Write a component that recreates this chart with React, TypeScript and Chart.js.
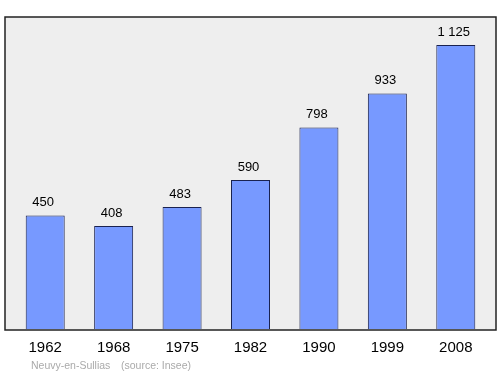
import React, { useEffect, useRef } from "react";
import { Chart, registerables } from "chart.js";

Chart.register(...registerables);

const years = ["1962", "1968", "1975", "1982", "1990", "1999", "2008"];
const population = [450, 408, 483, 590, 798, 933, 1125];
const valueLabels = ["450", "408", "483", "590", "798", "933", "1 125"];
const footerPlace = "Neuvy-en-Sullias";
const footerSource = "(source: Insee)";

const FONT = "'Liberation Sans', Arial, sans-serif";

const framePlugin = {
  id: "frame",
  beforeDraw(chart: any) {
    const { ctx, chartArea } = chart;
    const l = chartArea.left - 6;
    const r = chartArea.right + 6;
    const t = chartArea.top;
    const b = chartArea.bottom + 1;
    ctx.save();
    ctx.fillStyle = "#eeeeee";
    ctx.fillRect(l, t, r - l, b - t);
    ctx.strokeStyle = "#222222";
    ctx.lineWidth = 1.5;
    ctx.strokeRect(l, t, r - l, b - t);
    ctx.restore();
  },
  afterDatasetsDraw(chart: any) {
    const { ctx, chartArea } = chart;
    const xs = chart.scales.x;
    const ys = chart.scales.y;
    ctx.save();
    ctx.fillStyle = "#000000";
    ctx.textAlign = "center";
    ctx.textBaseline = "middle";
    ctx.font = `13px ${FONT}`;
    population.forEach((v, i) => {
      const x = xs.getPixelForValue(i);
      const y = ys.getPixelForValue(v);
      ctx.fillText(valueLabels[i], x - 2, y - 13);
    });
    ctx.font = `15px ${FONT}`;
    years.forEach((yr, i) => {
      const x = xs.getPixelForValue(i);
      ctx.fillText(yr, x, chartArea.bottom + 19);
    });
    ctx.font = `10.5px ${FONT}`;
    ctx.fillStyle = "#aaaaaa";
    ctx.textAlign = "left";
    ctx.fillText(footerPlace, 31, chartArea.bottom + 37);
    ctx.fillText(footerSource, 121, chartArea.bottom + 37);
    ctx.restore();
  },
};

export default function App() {
  const ref = useRef<HTMLCanvasElement>(null);
  useEffect(() => {
    if (!ref.current) return;
    const chart = new Chart(ref.current, {
      type: "bar",
      data: {
        labels: years,
        datasets: [
          {
            data: population,
            backgroundColor: "#7799ff",
            borderColor: "#1a2250",
            borderWidth: 1,
            barPercentage: 0.57,
            categoryPercentage: 1,
          },
        ],
      },
      options: {
        responsive: false,
        animation: false,
        layout: { padding: { left: 11, right: 10, top: 17, bottom: 45 } },
        plugins: { legend: { display: false }, tooltip: { enabled: false } },
        scales: {
          x: { display: false },
          y: { display: false, min: 0, max: 1236 },
        },
      },
      plugins: [framePlugin],
    });
    return () => chart.destroy();
  }, []);
  return (
    <div style={{ position: "fixed", left: 0, top: 0, width: 500, height: 374, background: "#fff" }}>
      <canvas ref={ref} width={500} height={374} />
    </div>
  );
}
